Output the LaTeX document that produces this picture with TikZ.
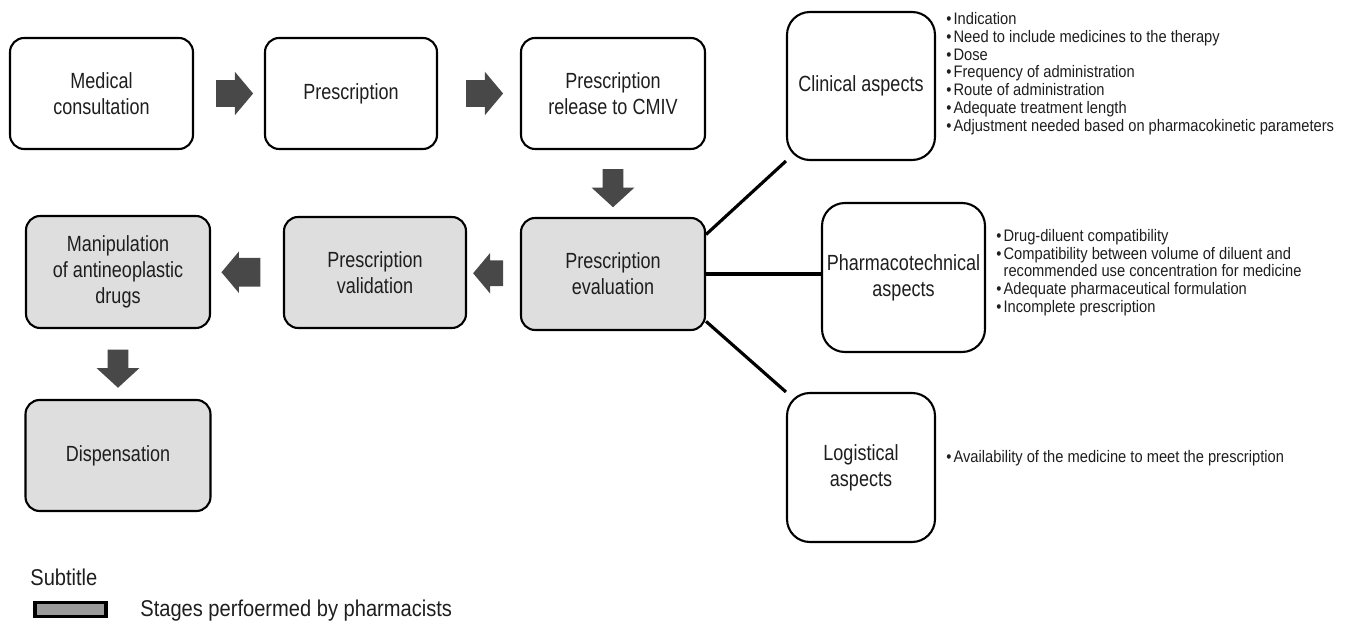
\documentclass[tikz,border=0pt]{standalone}
\usepackage{fontspec}
\setmainfont{Liberation Sans}[FakeStretch=0.88]
\newfontfamily\boxfont{Liberation Sans}[FakeStretch=0.82]
\usepackage{xcolor}
\usepackage{tikz}
\usetikzlibrary{positioning, calc, shapes.arrows, backgrounds}
\definecolor{inkgray}{RGB}{30,30,30}
\definecolor{stagefill}{RGB}{222,222,222}
\definecolor{arrowgray}{RGB}{72,72,72}
\definecolor{legendfill}{RGB}{155,155,155}
\tikzset{
  stepbox/.style={draw=black, line width=1.2pt, fill=white, rounded corners=8pt,
    minimum width=3.66cm, minimum height=2.22cm, align=center, text=inkgray,
    font=\boxfont\fontsize{12.5}{14.7}\selectfont, inner sep=2pt},
  pharmbox/.style={stepbox, fill=stagefill},
  aspectbox/.style={stepbox, rounded corners=13pt, minimum width=2.96cm, minimum height=2.96cm},
  blkarrow/.style={single arrow, fill=arrowgray, draw=none, inner xsep=0pt, inner ysep=0.26cm,
    single arrow head extend=0.17cm, single arrow tip angle=100, minimum height=0.74cm},
  downarrow/.style={blkarrow, shape border rotate=270, inner xsep=0.2cm, inner ysep=0pt,
    single arrow head extend=0.22cm, single arrow tip angle=95, minimum height=0.76cm},
  branch/.style={draw=black, line width=1.8pt},
  bulletlist/.style={anchor=west, align=left, inner sep=0pt, text=inkgray,
    font=\fontsize{9.5}{10.1}\selectfont},
  legendtext/.style={anchor=west, inner sep=0pt, text=inkgray, font=\fontsize{13}{15}\selectfont}
}
\newcommand{\bul}{\textbullet\hspace{1.2pt}}

\begin{document}
\begin{tikzpicture}[x=0.02cm, y=-0.02cm]
  \useasboundingbox (0,0) rectangle (1345,624);
  % process stages
  \node[stepbox] (mc) at (101.5,93.5) {Medical\\consultation};
  \node[stepbox, minimum width=3.44cm] (pr) at (351,93.5) {Prescription};
  \node[stepbox, minimum width=3.68cm] (rel) at (613,93.5) {Prescription\\release to CMIV};
  \node[pharmbox, minimum width=3.68cm, minimum height=2.24cm] (ev) at (613,274) {Prescription\\evaluation};
  \node[pharmbox, minimum width=3.64cm] (val) at (375,272.5) {Prescription\\validation};
  \node[pharmbox, minimum width=3.68cm, minimum height=2.24cm] (man) at (118,272) {Manipulation\\of antineoplastic\\drugs};
  \node[pharmbox, minimum width=3.7cm] (dis) at (118,455.5) {Dispensation};
  % aspects of the evaluation
  \node[aspectbox] (cli) at (861,86) {Clinical aspects};
  \node[aspectbox, minimum width=3.26cm, minimum height=2.98cm] (pha) at (903.5,277.5) {Pharmacotechnical\\aspects};
  \node[aspectbox, minimum height=2.98cm] (log) at (861,467.5) {Logistical\\aspects};
  % block arrows
  \node[blkarrow] (a1) at ($(mc.east)!0.5!(pr.west)$) {};
  \node[blkarrow] (a2) at ($(pr.east)!0.5!(rel.west)$) {};
  \node[downarrow] (a3) at ($(rel.south)!0.5!(ev.north)$) {};
  \node[blkarrow, shape border rotate=180, minimum height=0.6cm, inner ysep=0.25cm,
    single arrow head extend=0.15cm] (a4) at ($(ev.west)!0.5!(val.east)$) {};
  \node[blkarrow, shape border rotate=180, minimum height=0.78cm, inner ysep=0.28cm,
    single arrow head extend=0.13cm] (a5) at ($(val.west)!0.5!(man.east)$) {};
  \node[downarrow] (a6) at ($(man.south)!0.5!(dis.north)$) {};
  % branches
  \begin{scope}[on background layer]
    \draw[branch] (ev.23) -- (cli.south west);
    \draw[branch] (ev.east) -- (ev.east -| pha.west);
    \draw[branch] (ev.-27) -- (log.north west);
  \end{scope}
  % lists
  \node[bulletlist] (clilist) at (946,73.5) {\bul Indication\\
    \bul Need to include medicines to the therapy\\
    \bul Dose\\
    \bul Frequency of administration\\
    \bul Route of administration\\
    \bul Adequate treatment length\\
    \bul Adjustment needed based on pharmacokinetic parameters};
  \node[bulletlist] (phalist) at (996,272.5) {\bul Drug-diluent compatibility\\
    \bul Compatibility between volume of diluent and\\
    \hphantom{\bul}recommended use concentration for medicine\\
    \bul Adequate pharmaceutical formulation\\
    \bul Incomplete prescription};
  \node[bulletlist] (loglist) at (946,458) {\bul Availability of the medicine to meet the prescription};
  % legend
  \node[legendtext] (subt) at (30,577) {Subtitle};
  \node[draw=black, line width=2.2pt, fill=legendfill, minimum width=1.42cm, minimum height=0.28cm,
    inner sep=0pt] (legbox) at (70.5,609.5) {};
  \node[legendtext] (legtxt) at (140,611) {Stages perfoermed by pharmacists};
\end{tikzpicture}
\end{document}
